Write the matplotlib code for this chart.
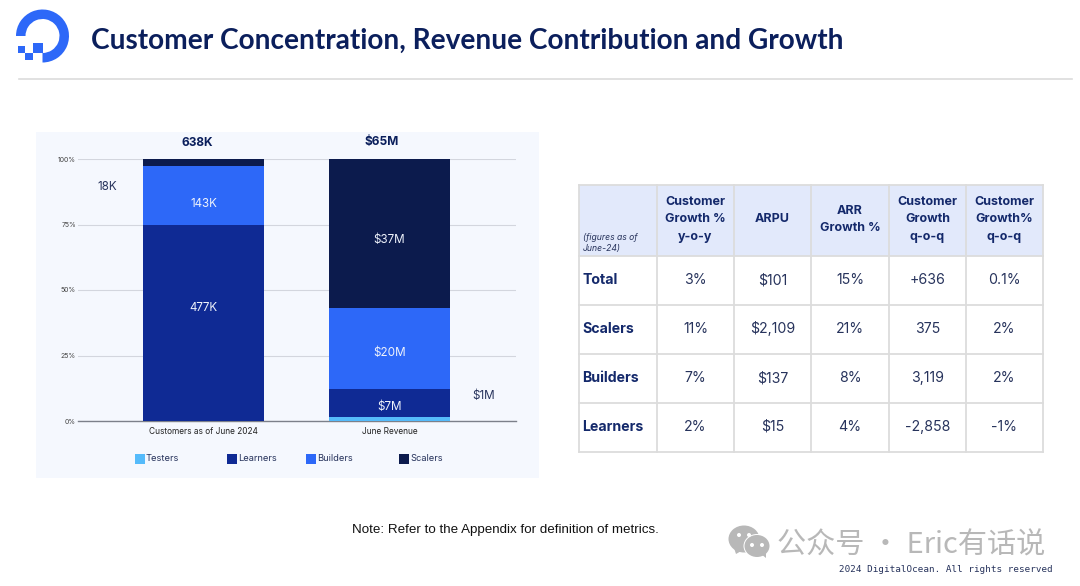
import matplotlib
matplotlib.use("Agg")
import matplotlib.pyplot as plt
from matplotlib.patches import Rectangle, Wedge, Ellipse, Polygon
import numpy as np

W, H = 1080, 586

title = "Customer Concentration, Revenue Contribution and Growth"

# stacked bars, in thousands of customers and $M
categories = ["Customers as of June 2024", "June Revenue"]
segments = ["Testers", "Learners", "Builders", "Scalers"]
testers = [0, 1]
learners = [477, 7]
builders = [143, 20]
scalers = [18, 37]
learner_labels = ["477K", "$7M"]
builder_labels = ["143K", "$20M"]
scaler_labels = ["", "$37M"]
totals = ["638K", "$65M"]
pct_ticks = [0, 25, 50, 75, 100]
seg_colors = ["#55bbfb", "#0f2a94", "#2d68f8", "#0c1b4d"]

# table
col_heads = ["Customer\nGrowth %\ny-o-y", "ARPU", "ARR\nGrowth %",
             "Customer\nGrowth\nq-o-q", "Customer\nGrowth%\nq-o-q"]
row_heads = ["Total", "Scalers", "Builders", "Learners"]
total_row = ["3%", "$101", "15%", "+636", "0.1%"]
scalers_row = ["11%", "$2,109", "21%", "375", "2%"]
builders_row = ["7%", "$137", "8%", "3,119", "2%"]
learners_row = ["2%", "$15", "4%", "-2,858", "-1%"]
table_rows = [total_row, scalers_row, builders_row, learners_row]

NAVY = "#0b1f5c"
plt.rcParams["font.family"] = ["Inter", "DejaVu Sans"]

fig = plt.figure(figsize=(W / 100, H / 100), dpi=100, facecolor="white")

# page layer in pixel coordinates
page = fig.add_axes([0, 0, 1, 1], zorder=0)
page.set_xlim(0, W)
page.set_ylim(H, 0)
page.axis("off")

# logo
page.add_patch(Wedge((42.5, 36), 26.5, 180, 450, width=9.5, color="#2d68f8", lw=0))
page.add_patch(Rectangle((33, 43), 9.5, 9.5, color="#2d68f8", lw=0))
page.add_patch(Rectangle((25, 52.5), 7.5, 7.5, color="#2d68f8", lw=0))
page.add_patch(Rectangle((18, 46), 6.5, 6.5, color="#2d68f8", lw=0))

page.text(91, 41, title, fontsize=20.2, fontweight="bold", color=NAVY,
          family=["Lato", "DejaVu Sans"], va="center", ha="left")
page.plot([19, 1072], [78.5, 78.5], color="#dcdcdc", lw=1.2)

# chart panel
page.add_patch(Rectangle((36, 132), 503, 346, color="#f5f8fe", lw=0))

# bar chart axes
left, right, top, bottom = 78, 516, 159, 421
ax = fig.add_axes([left / W, 1 - bottom / H, (right - left) / W, (bottom - top) / H],
                  zorder=1)
ax.patch.set_alpha(0)
x = np.arange(len(categories))
ax.set_xlim(-0.675, 1.68)
ax.set_ylim(0, 100)

stack = np.array([testers, learners, builders, scalers], dtype=float)
pct = stack / stack.sum(axis=0) * 100
bottoms = np.zeros(len(categories))
for i, seg in enumerate(segments):
    ax.bar(x, pct[i], width=0.65, bottom=bottoms, color=seg_colors[i], zorder=3, lw=0)
    bottoms = bottoms + pct[i]

# labels sit a little off the segment centres
bar_labels = [learner_labels, builder_labels, scaler_labels]
label_heights = [[43.2, 5.4], [83.0, 26.0], [0, 69.2]]
for labels, heights in zip(bar_labels, label_heights):
    for xi, lab, h in zip(x, labels, heights):
        ax.text(xi, h, lab, color="#eef2fb", fontsize=8.4, ha="center", va="center", zorder=4)

ax.set_yticks(pct_ticks)
ax.set_yticklabels([f"{t}%" for t in pct_ticks], fontsize=5.0, color="#444444")
ax.set_xticks(x)
ax.set_xticklabels(categories, fontsize=6.0, color="#222222")
ax.tick_params(axis="both", length=0)
ax.tick_params(axis="y", pad=1.5)
ax.tick_params(axis="x", pad=4.5)
ax.grid(axis="y", color="#d3d6de", lw=0.8, zorder=0)
for s in ["top", "left", "right"]:
    ax.spines[s].set_visible(False)
ax.spines["bottom"].set_color("#7c808a")
ax.spines["bottom"].set_linewidth(1.0)

for xpx, lab in zip([197.5, 382], totals):
    page.text(xpx, 142.5, lab, fontsize=8.6, fontweight="bold", color=NAVY, ha="center", va="center")
page.text(107, 187, "18K", fontsize=8.4, color="#27335c", ha="center", va="center")
page.text(484, 396, "$1M", fontsize=8.4, color="#27335c", ha="center", va="center")

# legend, unevenly spaced
legend_x = [135, 227, 306, 399]
for lx, seg, c in zip(legend_x, segments, seg_colors):
    page.add_patch(Rectangle((lx, 454), 9.5, 9.5, color=c, lw=0))
    page.text(lx + 11, 458.5, seg, fontsize=6.7, color="#27335c", ha="left", va="center")

# table
col_x = [579, 657, 734, 811, 889, 966, 1043]
row_y = [185, 256, 305, 354, 403, 452]
page.add_patch(Rectangle((col_x[0], row_y[0]), col_x[-1] - col_x[0], row_y[1] - row_y[0],
                         color="#e2e9fb", lw=0))
for cx in col_x:
    page.plot([cx, cx], [row_y[0], row_y[-1]], color="#dcdcdc", lw=1.3, solid_capstyle="projecting")
for ry in row_y:
    page.plot([col_x[0], col_x[-1]], [ry, ry], color="#dcdcdc", lw=1.3, solid_capstyle="projecting")

page.text(583, 243, "(figures as of\nJune-24)", fontsize=6.2, style="italic", color="#27335c",
          ha="left", va="center", linespacing=1.2)
for j, head in enumerate(col_heads):
    page.text((col_x[j + 1] + col_x[j + 2]) / 2, 219.5, head, fontsize=9.0, fontweight="bold",
              color="#14296b", ha="center", va="center", linespacing=1.6)
for i, name in enumerate(row_heads):
    cy = (row_y[i + 1] + row_y[i + 2]) / 2
    page.text(582.5, cy - 0.5, name, fontsize=10.2, fontweight="bold", color="#14296b", ha="left", va="center")
    for j, val in enumerate(table_rows[i]):
        page.text((col_x[j + 1] + col_x[j + 2]) / 2, cy - 0.5, val, fontsize=10.2, color="#27335c",
                  ha="center", va="center")

page.text(505, 530, "Note: Refer to the Appendix for definition of metrics.", fontsize=9.65,
          family=["Liberation Sans"], color="#111111", ha="center", va="center")

# wechat mark
grey = "#b8b8b8"
page.add_patch(Ellipse((744, 539), 31, 27, color=grey, lw=0))
page.add_patch(Polygon([[734, 548], [736, 554], [743, 550]], color=grey, lw=0))
page.add_patch(Ellipse((757, 546), 27, 24, color="white", lw=0))
page.add_patch(Ellipse((757, 546), 25, 22, color=grey, lw=0))
page.add_patch(Polygon([[761, 554], [766, 558], [766, 551]], color=grey, lw=0))
for ex, ey in [(739, 535), (749, 535), (752, 545), (762, 545)]:
    page.add_patch(Ellipse((ex, ey), 4, 4, color="white", lw=0))

page.text(777, 546, "公众号 · Eric有话说", fontsize=21, color=grey,
          family=["Noto Sans CJK SC", "DejaVu Sans"], ha="left", va="center")
page.text(1053, 570, "2024 DigitalOcean. All rights reserved", fontsize=6.65, color="#27335c",
          family=["DejaVu Sans Mono"], ha="right", va="center")

fig.savefig("out.png", dpi=100)
